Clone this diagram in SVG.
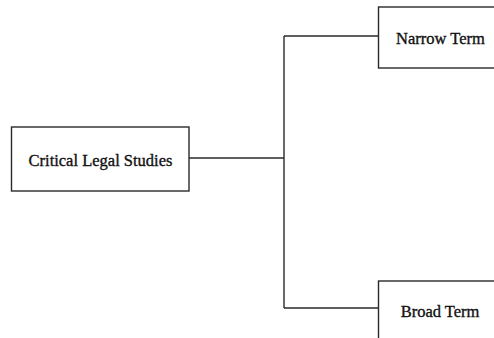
<svg xmlns="http://www.w3.org/2000/svg" width="494" height="338" viewBox="0 0 494 338">
  <style>
    .box { fill: #ffffff; stroke: #2a2a2a; stroke-width: 1.4; }
    .link { fill: none; stroke: #2a2a2a; stroke-width: 1.4; }
    .label { font-family: "Liberation Serif", "Times New Roman", serif; font-size: 16.5px; fill: #111111; stroke: #111111; stroke-width: 0.35; text-anchor: middle; }
  </style>
  <rect width="494" height="338" fill="#ffffff"/>
  <g id="connectors">
    <path class="link" d="M189,158 H284"/>
    <path class="link" d="M284,36 V308"/>
    <path class="link" d="M284,36 H378.5"/>
    <path class="link" d="M284,308 H378.5"/>
  </g>
  <g id="critical-legal-studies">
    <rect class="box" x="11.5" y="127" width="177.5" height="64"/>
    <text class="label" x="100.5" y="166">Critical Legal Studies</text>
  </g>
  <g id="narrow-term">
    <rect class="box" x="378.5" y="7" width="130" height="61"/>
    <text class="label" x="440.5" y="43.5">Narrow Term</text>
  </g>
  <g id="broad-term">
    <rect class="box" x="378.5" y="281" width="130" height="70"/>
    <text class="label" x="440" y="316.5">Broad Term</text>
  </g>
</svg>
